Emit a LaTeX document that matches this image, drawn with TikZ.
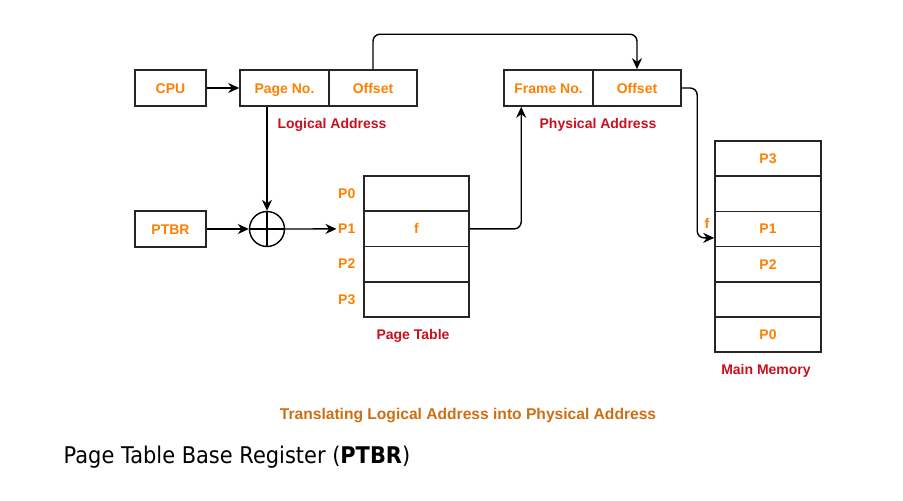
\documentclass[tikz,border=0pt]{standalone}
\usepackage{fontspec}
\setmainfont{Liberation Sans}
\newfontfamily\notefont[FakeStretch=0.91]{DejaVu Sans}
\usepackage{xcolor}
\usetikzlibrary{arrows.meta,calc}
\definecolor{regtext}{RGB}{255,128,0}
\definecolor{lbltext}{RGB}{200,16,30}
\definecolor{captext}{RGB}{204,110,20}

\begin{document}
\begin{tikzpicture}[x=1pt,y=-1pt,font=\fontsize{14}{16}\selectfont\bfseries,
  line width=1.4pt,
  regbox/.style={draw=black!85, line width=1.6pt, text=regtext, minimum height=36pt, inner sep=0pt, text height=10pt, text depth=0pt},
  rowbox/.style={draw=black!85, line width=1.6pt, text=regtext, minimum height=35.2pt, inner sep=0pt, text height=10pt, text depth=0pt},
  lbl/.style={text=lbltext},
  arr/.style={-{Stealth[length=11pt,width=10pt]}, black}]
  \useasboundingbox (0,0) rectangle (903,501);

  % logical / physical address registers
  \node[regbox, minimum width=71pt] (cpu) at (170.5,88) {CPU};
  \node[regbox, minimum width=89pt] (pageno) at (284.5,88) {Page No.};
  \node[regbox, minimum width=88pt] (offl) at (373,88) {Offset};
  \node[regbox, minimum width=89pt] (frameno) at (548.5,88) {Frame No.};
  \node[regbox, minimum width=88pt] (offp) at (637,88) {Offset};
  \node[lbl] (lladdr) at (332,125) {Logical Address};
  \node[lbl] (lpaddr) at (598,125) {Physical Address};

  \node[regbox, minimum width=71pt] (ptbr) at (170.5,229) {PTBR};
  \node[draw=black, circle, minimum size=35pt, inner sep=0pt] (adder) at (267,229) {};
  \draw (adder.north) -- (adder.south);
  \draw (adder.west) -- (adder.east);

  % page table
  \foreach \yy/\name in {193.6/0,228.9/1,264.1/2,299.4/3} {
    \node[rowbox, minimum width=105pt] (pt\name) at (416.5,\yy) {};
    \node[anchor=east, text=regtext, inner sep=1pt] (pl\name) at (357,\yy) {P\name};
  }
  \node[text=regtext] (fval) at (pt1) {f};
  \node[lbl] (lptable) at (413,336) {Page Table};

  % main memory
  \foreach \yy/\name/\txt in {158.6/0/P3,193.7/1/,228.9/2/P1,264.1/3/P2,299.2/4/,334.4/5/P0} {
    \node[rowbox, minimum width=106pt] (mem\name) at (768,\yy) {\txt};
  }
  \node[lbl] (lmem) at (766,371) {Main Memory};

  \draw[arr] (cpu.east) -- (pageno.west);
  \draw[arr] (pageno.south -| adder.north) -- (adder.north);
  \draw[arr] (ptbr.east) -- (adder.west);
  \draw[arr] (adder.east) -- (pl1.west);
  \draw[arr, rounded corners=7pt] (offl.north) -- ++(0,-35) -| (offp.north);
  \draw[arr, rounded corners=7pt] (pt1.east) -| ([xshift=18pt]frameno.south west);
  \draw[arr, rounded corners=7pt] (offp.east) -| ([xshift=-17pt,yshift=-9pt]mem2.west) -- ([yshift=-9pt]mem2.west);
  \node[text=regtext] (fmem) at (707,223) {f};

  \node[text=captext, font=\fontsize{15.6}{17}\selectfont\bfseries] (caption) at (468,415) {Translating Logical Address into Physical Address};
  \node[anchor=west, inner sep=0pt, font=\notefont\fontsize{23}{26}\selectfont] (note) at (63,457) {Page Table Base Register (\textbf{PTBR})};
\end{tikzpicture}
\end{document}
